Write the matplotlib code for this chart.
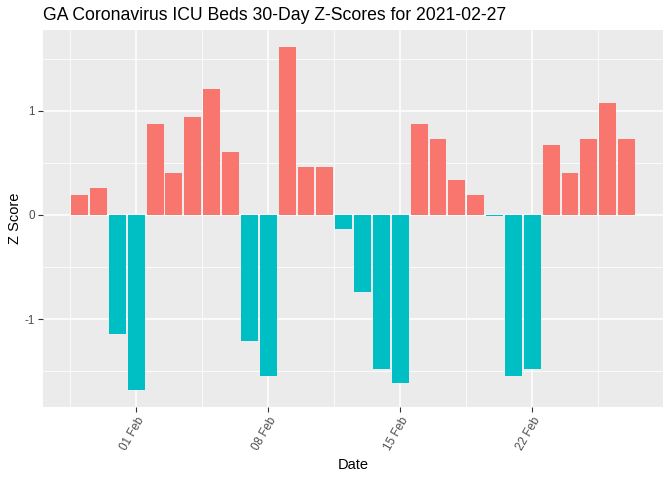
import matplotlib.pyplot as plt
import matplotlib.dates as mdates
import numpy as np
import pandas as pd

plt.rcParams["font.family"] = ["Liberation Sans", "DejaVu Sans"]

dates = pd.date_range("2021-01-29", "2021-02-27", freq="D")
z_scores = [
    0.19, 0.26, -1.14, -1.68, 0.87, 0.40, 0.94, 1.21, 0.60, -1.21,
    -1.55, 1.61, 0.46, 0.46, -0.14, -0.74, -1.48, -1.61, 0.87, 0.73,
    0.33, 0.19, -0.01, -1.55, -1.48, 0.67, 0.40, 0.73, 1.07, 0.73,
]
tick_dates = pd.to_datetime(["2021-02-01", "2021-02-08", "2021-02-15", "2021-02-22"])
tick_labels = ["01 Feb", "08 Feb", "15 Feb", "22 Feb"]

z = np.array(z_scores)
colors = np.where(z > 0, "#F8766D", "#00BFC4")

fig = plt.figure(figsize=(6.72, 4.8), dpi=100)
ax = fig.add_axes([0.064, 0.152, 0.923, 0.7855])
ax.set_facecolor("#EBEBEB")

x = mdates.date2num(dates)
ax.bar(x, z, width=0.9, color=colors, zorder=3)

# limits with ggplot-like 5% expansion
lo, hi = x.min() - 0.45, x.max() + 0.45
pad = (hi - lo) * 0.05
ax.set_xlim(lo - pad, hi + pad)
ylo, yhi = min(z.min(), 0), max(z.max(), 0)
ypad = (yhi - ylo) * 0.05
ax.set_ylim(ylo - ypad, yhi + ypad)

tx = mdates.date2num(tick_dates)
ax.set_xticks(tx)
ax.set_xticklabels(tick_labels, rotation=60, ha="right", rotation_mode="anchor")
minor_x = np.concatenate([[tx[0] - 3.5], tx + 3.5])
ax.set_xticks(minor_x, minor=True)
ax.set_yticks([-1, 0, 1])
ax.set_yticklabels(["-1", "0", "1"])
ax.set_yticks([-1.5, -0.5, 0.5, 1.5], minor=True)

ax.grid(True, which="major", color="white", linewidth=1.1, zorder=0)
ax.grid(True, which="minor", color="white", linewidth=0.55, zorder=0)
ax.set_axisbelow(True)
for s in ax.spines.values():
    s.set_visible(False)
ax.tick_params(which="major", length=3.5, color="#333333", labelsize=8.4,
               labelcolor="#4D4D4D", width=0.8, pad=2.5)
ax.tick_params(which="minor", length=0)

ax.set_xlabel("Date", fontsize=10.5, labelpad=4)
ax.set_ylabel("Z Score", fontsize=10.5, labelpad=2)
ax.set_title("GA Coronavirus ICU Beds 30-Day Z-Scores for 2021-02-27",
             fontsize=12.7, loc="left", x=0.0, pad=7)

plt.savefig("out.png", dpi=100)
plt.close()
